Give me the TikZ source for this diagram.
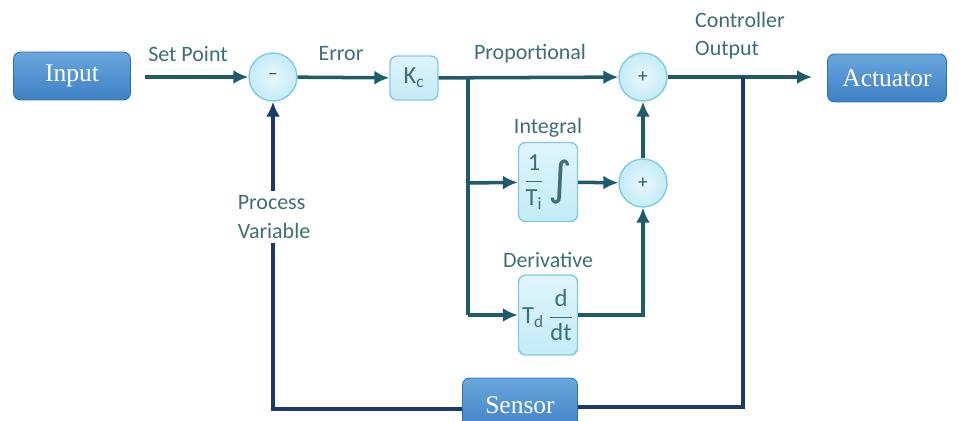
\documentclass[tikz,border=0pt]{standalone}
\usepackage{fontspec}
\setmainfont{Carlito}
\newfontfamily\boxfont{Liberation Serif}
\newfontfamily\intfont{DejaVu Sans}
\usetikzlibrary{arrows.meta}
\definecolor{lnteal}{HTML}{1F5B6B}
\definecolor{fbnavy}{HTML}{1B3A6B}
\definecolor{lbltext}{HTML}{3E6E78}
\definecolor{cyanfill}{HTML}{C4ECF7}
\definecolor{cyanedge}{HTML}{7FCCDF}
\definecolor{bluetop}{HTML}{6AA6DE}
\definecolor{bluebot}{HTML}{3E80C4}
\tikzset{
  bluebox/.style={rectangle, rounded corners=4pt, top color=bluetop, bottom color=bluebot,
    draw=bluebot!85!black, line width=0.5pt, text=white,
    font=\boxfont\fontsize{14.5}{16}\selectfont, minimum height=0.96cm},
  cyanbox/.style={rectangle, rounded corners=4pt, top color=cyanfill!55!white, bottom color=cyanfill,
    draw=cyanedge, line width=0.8pt, text=lbltext, inner sep=1pt,
    font=\fontsize{14}{16}\selectfont},
  sumcirc/.style={circle, inner color=cyanfill!40!white, outer color=cyanfill,
    draw=cyanedge, line width=0.8pt, minimum size=0.96cm, inner sep=0pt,
    text=lnteal, font=\fontsize{11}{12}\selectfont},
  lbl/.style={text=lbltext, font=\fontsize{12.5}{16}\selectfont, inner sep=1pt},
  flow/.style={draw=lnteal, line width=2pt, -{Latex[length=8.5pt,width=8pt]}},
  wire/.style={draw=lnteal, line width=2pt},
  fb/.style={draw=fbnavy, line width=2pt}
}
\begin{document}
\begin{tikzpicture}[x=0.02cm, y=-0.02cm]
\useasboundingbox (0,0) rectangle (961,420);
\clip (0,0) rectangle (961,420);
% blocks
\node[bluebox, minimum width=2.34cm] (input) at (72,76) {Input};
\node[sumcirc] (sum) at (273,77) {--};
\node[cyanbox, minimum width=0.96cm, minimum height=0.88cm] (kc) at (414,78) {K\textsubscript{c}};
\node[sumcirc] (plusp) at (643,77) {+};
\node[sumcirc] (plusid) at (643,183) {+};
\node[cyanbox, minimum width=1.18cm, minimum height=1.58cm] (integ) at (548,182)
  {$\displaystyle\frac{\mbox{1}}{\mbox{T\textsubscript{i}}}$\,\raisebox{-0.25em}{\intfont\fontsize{26}{26}\selectfont ∫}};
\node[cyanbox, minimum width=1.18cm, minimum height=1.6cm] (deriv) at (548,315)
  {$\mbox{T\textsubscript{d}}\,\displaystyle\frac{\mbox{d}}{\mbox{dt}}$};
\node[bluebox, minimum width=2.38cm] (actuator) at (887,78) {Actuator};
\node[bluebox, minimum width=2.3cm, minimum height=1.08cm] (sensor) at (520,405) {Sensor};
% labels
\node[lbl] (setpt) at (188,54) {Set Point};
\node[lbl] (errlbl) at (341,54) {Error};
\node[lbl] (proplbl) at (530,54) {Proportional};
\node[lbl] (intlbl) at (548,128) {Integral};
\node[lbl] (derlbl) at (548,260) {Derivative};
\node[lbl, align=left] (outlbl) at (740,36) {Controller\\Output};
% points on the wires
\coordinate (spstart) at (145,77);
\coordinate (branch) at (468,77);
\coordinate (bi) at (468,183);
\coordinate (bd) at (468,315);
\coordinate (outend) at (812,77);
\coordinate (tap) at (743,77);
\coordinate (tapdown) at (743,407);
\coordinate (fbcorner) at (273,409);
% forward path
\draw[flow] (spstart) -- (sum);
\draw[flow] (sum) -- (kc);
\draw[flow] (kc) -- (plusp);
\draw[wire] (branch) -- (bd);
\draw[flow] (bi) -- (integ);
\draw[flow] (bd) -- (deriv);
\draw[flow] (integ) -- (plusid);
\draw[flow] (deriv) -| (plusid);
\draw[flow] (plusid) -- (plusp);
\draw[flow] (plusp) -- (outend);
% feedback
\draw[fb] (tap) -- (tapdown) -- (sensor.east |- tapdown);
\draw[fb, -{Latex[length=8.5pt,width=8pt]}] (sensor.west |- fbcorner) -- (fbcorner) -- (sum);
\node[lbl, align=left, fill=white, inner sep=3pt] (pvlbl) at (274,217) {Process\\Variable};
\end{tikzpicture}
\end{document}
